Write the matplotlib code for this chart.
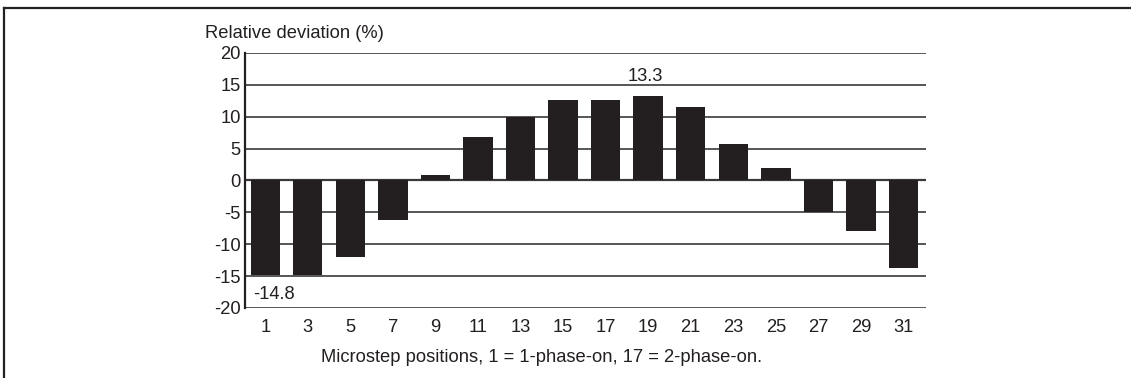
import matplotlib.pyplot as plt
from matplotlib.lines import Line2D

plt.rcParams['font.family'] = ['Liberation Sans', 'DejaVu Sans']
plt.rcParams['axes.unicode_minus'] = False

# Relative deviation of each odd microstep position
positions = [1, 3, 5, 7, 9, 11, 13, 15, 17, 19, 21, 23, 25, 27, 29, 31]
deviation = [-14.8, -14.8, -12.0, -6.2, 0.8, 6.9, 9.9, 12.7,
             12.7, 13.3, 11.5, 5.7, 2.0, -4.9, -7.9, -13.7]
yticks = [-20, -15, -10, -5, 0, 5, 10, 15, 20]

ink = '#231f20'
fs = 13.2

fig = plt.figure(figsize=(11.31, 3.78), dpi=100)
ax = fig.add_axes([0.2166, 0.1852, 0.602, 0.6746])

# Frame around the figure: top and left edges only
fig.add_artist(Line2D([4 / 1131, 1.0], [1 - 8 / 378, 1 - 8 / 378],
                      transform=fig.transFigure, color='#222222', lw=1.6))
fig.add_artist(Line2D([4 / 1131, 4 / 1131], [0, 1 - 8 / 378],
                      transform=fig.transFigure, color='#222222', lw=1.6))

for y in yticks:
    ax.axhline(y, color='#3a3a3a', lw=1.6 if y == 0 else 1.2, zorder=1)

ax.bar(positions, deviation, width=1.38, color=ink, zorder=2)

ax.set_xlim(0.05, 32.05)
ax.set_ylim(-20, 20)
ax.set_xticks(positions)
ax.set_yticks(yticks)
ax.tick_params(axis='both', length=0, labelsize=fs, colors=ink)
ax.tick_params(axis='x', pad=8)
ax.tick_params(axis='y', pad=3)

for side in ['top', 'right', 'bottom']:
    ax.spines[side].set_visible(False)
ax.spines['left'].set_color(ink)
ax.spines['left'].set_linewidth(1.6)

# Extreme values labelled on their bars
i_min = deviation.index(min(deviation))
i_max = deviation.index(max(deviation))
ax.annotate(f'{deviation[i_min]:.1f}', (positions[i_min] - 0.69, deviation[i_min]),
            xytext=(2, -14), textcoords='offset points', ha='left', va='center',
            fontsize=fs, color=ink)
ax.annotate(f'{deviation[i_max]:.1f}', (positions[i_max], deviation[i_max]),
            xytext=(-2, 14), textcoords='offset points', ha='center', va='center',
            fontsize=fs, color=ink)

fig.text(205 / 1131, 1 - 33 / 378, 'Relative deviation (%)', ha='left', va='center',
         fontsize=fs, color=ink)
fig.text(542 / 1131, 1 - 357 / 378,
         'Microstep positions, 1 = 1-phase-on, 17 = 2-phase-on.',
         ha='center', va='center', fontsize=fs, color=ink)

fig.savefig('out.png', dpi=100)
